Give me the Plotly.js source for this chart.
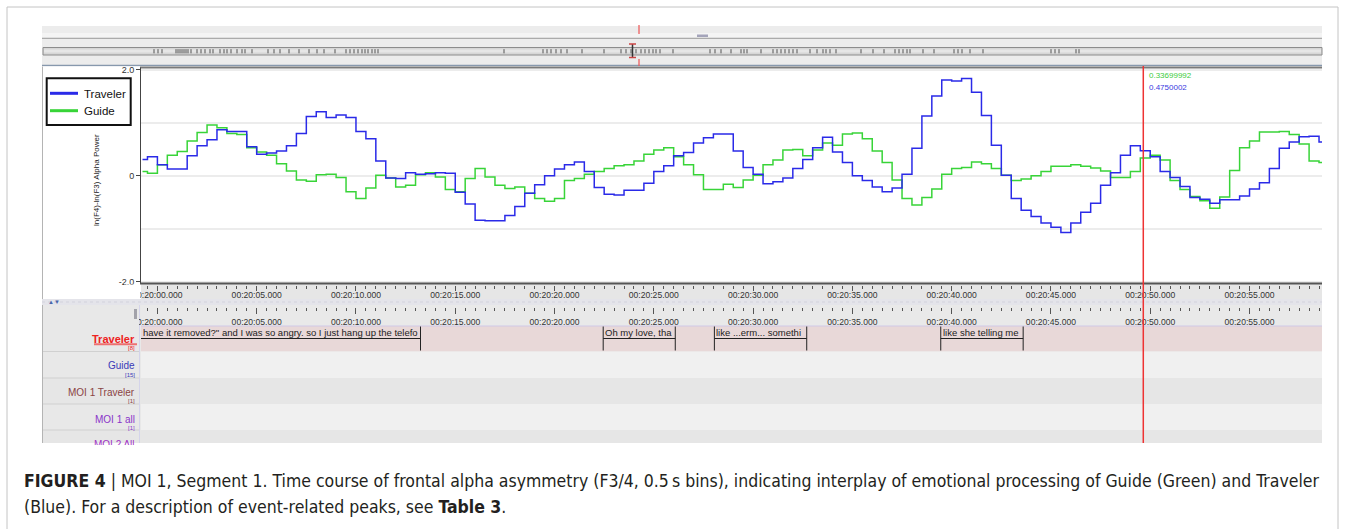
<!DOCTYPE html>
<html><head><meta charset="utf-8">
<script src="https://cdn.plot.ly/plotly-3.0.1.min.js"></script>
<style>html,body{margin:0;padding:0;background:#fff}#chart{width:1357px;height:529px}</style>
</head><body><div id="chart"></div>
<script>
// ---------------- DATA ----------------
const seriesNames = ["Traveler", "Guide"];
const seriesColors = ["#2a2ae8", "#38d438"];
// 0.5 s bins, first bin starts at 00:19:59.000 (t = -1.0 s relative to 00:20:00)
const binStart = -1.0;
const binWidth = 0.5;
const traveler = [
  0.31, 0.36, 0.21, 0.13, 0.13, 0.38, 0.57, 0.68, 0.87, 0.84,
  0.84, 0.55, 0.41, 0.43, 0.47, 0.57, 0.80, 1.12, 1.21, 1.10,
  1.15, 1.10, 0.84, 0.70, 0.28, -0.04, -0.05, 0.06, 0.03, 0.04,
  0.06, 0.05, -0.31, -0.53, -0.84, -0.85, -0.85, -0.75, -0.58, -0.33,
  -0.17, 0.00, 0.13, 0.21, 0.26, 0.08, -0.22, -0.35, -0.36, -0.27,
  -0.27, -0.14, 0.08, 0.19, 0.38, 0.44, 0.62, 0.72, 0.79, 0.79,
  0.47, 0.16, 0.03, -0.15, -0.11, -0.04, 0.14, 0.31, 0.53, 0.73,
  0.45, 0.25, 0.00, -0.09, -0.21, -0.30, -0.23, 0.03, 0.52, 1.13,
  1.51, 1.81, 1.79, 1.84, 1.58, 1.14, 0.58, 0.01, -0.43, -0.65,
  -0.77, -0.89, -0.97, -1.07, -0.89, -0.69, -0.52, -0.18, 0.06, 0.39,
  0.57, 0.475, 0.36, 0.08, -0.03, -0.20, -0.41, -0.44, -0.52, -0.45,
  -0.45, -0.38, -0.25, -0.13, 0.14, 0.52, 0.64, 0.74, 0.75, 0.64
];
const guide = [
  0.08, 0.05, 0.21, 0.39, 0.46, 0.66, 0.82, 0.96, 0.91, 0.80,
  0.78, 0.53, 0.45, 0.39, 0.23, 0.09, -0.08, -0.10, 0.02, 0.03,
  -0.03, -0.30, -0.43, -0.23, 0.01, -0.04, -0.21, -0.18, 0.02, 0.06,
  -0.02, -0.26, -0.30, -0.05, 0.14, -0.02, -0.18, -0.24, -0.21, -0.33,
  -0.43, -0.48, -0.43, -0.09, -0.05, 0.03, 0.08, 0.14, 0.19, 0.21,
  0.28, 0.41, 0.49, 0.53, 0.36, 0.21, 0.02, -0.26, -0.26, -0.16,
  -0.22, -0.08, 0.01, 0.21, 0.30, 0.49, 0.50, 0.38, 0.49, 0.62,
  0.58, 0.79, 0.81, 0.70, 0.47, 0.25, -0.08, -0.43, -0.55, -0.41,
  -0.25, 0.03, 0.14, 0.16, 0.26, 0.23, 0.14, 0.01, -0.09, -0.06,
  0.00, 0.08, 0.18, 0.18, 0.21, 0.18, 0.15, 0.09, -0.03, -0.03,
  0.08, 0.337, 0.39, 0.30, -0.09, -0.26, -0.39, -0.47, -0.61, -0.40,
  0.10, 0.53, 0.66, 0.83, 0.83, 0.84, 0.78, 0.60, 0.28, 0.25
];
const viewRange = [-0.826, 58.65];               // seconds after 00:20:00
const tickSeconds = [0, 5, 10, 15, 20, 25, 30, 35, 40, 45, 50, 55];
const tickLabels = ["00:20:00.000", "00:20:05.000", "00:20:10.000", "00:20:15.000",
  "00:20:20.000", "00:20:25.000", "00:20:30.000", "00:20:35.000", "00:20:40.000",
  "00:20:45.000", "00:20:50.000", "00:20:55.000"];
const yTickVals = [-2, 0, 2];
const yTickText = ["-2.0", "0", "2.0"];
const yGridMinor = [-1, 1];
const yTitle = "ln(F4)-ln(F3) Alpha Power";
const cursorTime = 49.65;
const cursorReadouts = ["0.33699992", "0.4750002"];   // Guide, Traveler
// annotation tier "Traveler"
const segStart = [-3.0, 22.45, 28.05, 39.45];
const segEnd = [13.25, 26.08, 32.7, 43.6];
const segText = ["have it removed?\" and I was so angry. so I just hang up the telefo",
  "Oh my love, tha", "like ...erm... somethi", "like she telling me"];
const tierNames = ["Traveler", "Guide", "MOI 1 Traveler", "MOI 1 all", "MOI 2 All"];
const tierCounts = ["[8]", "[15]", "[1]", "[1]", ""];
const tierColors = ["#ee2222", "#3a3ab8", "#8a4444", "#8a34c8", "#a034c4"];
// overview strip: annotation boundaries over the whole media (overview units)
const overviewTicks = [112,116,120,134,136,138,140,142,144,146,149,155,159,163,168,171,178,182,185,189,
  195,200,203,210,226,232,238,247,257,267,275,282,293,304,308,312,316,320,323,326,330,333,336,
  462,501,505,509,514,519,525,540,562,579,584,589,594,599,603,607,611,614,618,631,668,673,679,
  689,699,702,705,719,731,735,739,743,747,751,755,768,775,781,784,788,794,819,831,842,853,857,
  861,865,868,881,892,912,916,920,928,941,1009,1013,1017,1034,1037];
const captionBold1 = "FIGURE 4";
const captionRest1 = " | MOI 1, Segment 1. Time course of frontal alpha asymmetry (F3/4, 0.5\u2009s bins), indicating interplay of emotional processing of Guide (Green) and Traveler";
const captionRest2a = "(Blue). For a description of event-related peaks, see ";
const captionBold2 = "Table 3";
const captionRest2b = ".";

// ---------------- LAYOUT HELPERS ----------------
const W = 1357, H = 529;
const X = p => p / W;
const Y = p => 1 - p / H;
const FONT = "Liberation Sans, Arial, sans-serif";

// caption font: prefer a narrow sans if installed, sized to the caption's line width
const cnv = document.createElement("canvas").getContext("2d");
function widthOf(str, fam, weight, size) { cnv.font = weight + " " + size + "px " + fam; return cnv.measureText(str).width; }
function hasFont(name) {
  const probe = "abcdefghijklmnopqrstuvwxyz0123456789ABCDEFGHIJ";
  return ["monospace", "serif"].some(f => Math.abs(widthOf(probe, '"' + name + '", ' + f, "normal", 40) - widthOf(probe, f, "normal", 40)) > 0.5);
}
const capCandidates = ["Liberation Sans Narrow", "Arial Narrow", "DejaVu Sans Condensed", "Liberation Sans"];
const capFamily = capCandidates.find(hasFont) || "Liberation Sans";
const capFam = '"' + capFamily + '", Arial, sans-serif';
const line1At20 = widthOf(captionBold1, capFam, "bold", 20) + widthOf(captionRest1, capFam, "normal", 20);
const capSize = Math.min(24, 20 * 1296 / line1At20);

const shapes = [];
const annotations = [];
function rect(x0, y0, x1, y1, fill, layer, lineColor, lw) {
  shapes.push({type: "rect", xref: "paper", yref: "paper", x0: X(x0), x1: X(x1), y0: Y(y1), y1: Y(y0),
    fillcolor: fill, line: {color: lineColor || fill, width: lw || 0}, layer: layer || "below"});
}
function line(x0, y0, x1, y1, color, width, layer, dash) {
  shapes.push({type: "line", xref: "paper", yref: "paper", x0: X(x0), x1: X(x1), y0: Y(y0), y1: Y(y1),
    line: {color: color, width: width, dash: dash || "solid"}, layer: layer || "below"});
}
function text(t, x, y, size, color, anchor, extra, fam) {
  annotations.push(Object.assign({text: t, xref: "paper", yref: "paper", x: X(x), y: Y(y),
    xanchor: anchor || "left", yanchor: "middle", showarrow: false,
    font: {family: fam || FONT, size: size, color: color}}, extra || {}));
}

const PL = 141, PR = 1322, PT = 67.5, PB = 283.5;

// outer figure frame
rect(7, 7, 1338, 545, "rgba(0,0,0,0)", "below", "#c4c4c4", 1);
// top ELAN panels
rect(42, 26, 1322, 66, "#ececec");
rect(42, 33, 1322, 37.5, "#f4f4f4");
line(42, 38.3, 1322, 38.3, "#9c9c9c", 1);
rect(43, 47.5, 1322, 55, "#d6d6d6", "below", "#8c8c8c", 1);
rect(44, 49.5, 1321, 52.5, "#e6e6e6");
line(42, 65.6, 1322, 65.6, "#8798ad", 1.5);
rect(697, 34.5, 708, 37, "#a4a4ba");
// main plot panel
rect(42, 66.5, 1322, 299, "#ffffff");
line(42.5, 66.5, 42.5, 443, "#b4b4b4", 1);
rect(PL, 284, PR, 299, "#e6e6e6");
// separator strip
rect(42, 299, 1322, 305, "#e4e4ea");
line(42, 302, 1322, 302, "#d2d2dc", 1, "below", "dot");
// lower panel
rect(43, 305, 1322, 443, "#e8e8e8");
rect(PL, 305, PR, 326, "#e9e9e9");
rect(PL, 326, PR, 351.5, "#e8d8d8");
line(PL, 326, PR, 326, "#cfc8e6", 1);
rect(PL, 351.5, PR, 378, "#f0f0f0");
rect(43, 378, PR, 404, "#e6e6e6");
rect(PL, 404, PR, 430, "#f0f0f0");
rect(43, 430, PR, 443, "#e6e6e6");
[351.5, 378, 404, 430].forEach(yy => line(43, yy, 139, yy, "#d0d0d0", 1));
line(139.5, 305, 139.5, 443, "#d4d4ea", 1);
// plot borders
line(PL - 1, PT, PR, PT, "#7a7a7a", 2, "above");
line(PL - 0.5, PT, PL - 0.5, PB, "#444444", 1, "above");
line(PL - 1, PB, PR, PB, "#555555", 2, "above");
// covers for the clipped first ruler labels
rect(124, 284.6, 140.2, 299, "#ffffff", "above");
rect(120, 305.5, 139, 326, "#e8e8e8", "above");
rect(134, 309, 137, 319, "#a2a2aa", "above");

// top overview cursor marks
line(639, 25, 639, 38, "#ee5555", 1.2, "above", "dash");
line(639, 59, 639, 66, "#ee5555", 1.2, "above", "dash");
line(632.5, 44, 632.5, 57.5, "#333333", 1.5, "above");
line(629, 44, 636, 44, "#cc4444", 1.5, "above");
line(629, 57.5, 636, 57.5, "#cc4444", 1.5, "above");

// red time cursor across panels
shapes.push({type: "line", xref: "x", yref: "paper", x0: cursorTime, x1: cursorTime, y0: Y(443), y1: Y(66),
  line: {color: "#ee3333", width: 1.5}, layer: "above"});

// Traveler tier annotation segments
for (let i = 0; i < segStart.length; i++) {
  const s = Math.max(segStart[i], viewRange[0]);
  if (segStart[i] >= viewRange[0]) {
    shapes.push({type: "line", xref: "x", yref: "paper", x0: segStart[i], x1: segStart[i], y0: Y(350.5), y1: Y(326.5),
      line: {color: "#222", width: 1}, layer: "above"});
  }
  shapes.push({type: "line", xref: "x", yref: "paper", x0: segEnd[i], x1: segEnd[i], y0: Y(350.5), y1: Y(326.5),
    line: {color: "#222", width: 1}, layer: "above"});
  shapes.push({type: "line", xref: "x", yref: "paper", x0: s, x1: segEnd[i], y0: Y(338.5), y1: Y(338.5),
    line: {color: "#222", width: 1}, layer: "above"});
  annotations.push({text: segText[i], xref: "x", yref: "paper", x: s, y: Y(332.3), xanchor: "left", yanchor: "middle",
    xshift: 0, showarrow: false, font: {family: FONT, size: 9.5, color: "#222"}});
}

// manual legend box
rect(46.7, 78.3, 130.7, 125, "#ffffff", "above", "#111111", 2);
line(50, 93.3, 78, 93.3, seriesColors[0], 3, "above");
line(50, 110.7, 78, 110.7, seriesColors[1], 3, "above");
text(seriesNames[0], 82, 93.5, 11.5, "#111");
text(seriesNames[1], 82, 110.9, 11.5, "#111");

// y-axis title
text(yTitle, 97, 180, 8, "#222", "center", {textangle: -90});
// cursor readouts
text(cursorReadouts[0], 1146.5, 75, 8, "#3ccc3c");
text(cursorReadouts[1], 1146.5, 87.5, 8, "#3a3ae0");
// separator arrows
text("\u25B2\u25BC", 46, 302, 6, "#4a66aa");
// tier labels
text("<b>" + tierNames[0] + "</b>", 137, 339, 11, tierColors[0], "right");
line(94, 344.3, 137, 344.3, "#ee7070", 2, "above");
text(tierCounts[0], 137, 347.8, 6, tierColors[0], "right");
const tierY = [null, 366, 392, 419];
for (let i = 1; i < 4; i++) {
  text(tierNames[i], 137, tierY[i], 10, tierColors[i], "right");
  text(tierCounts[i], 137, tierY[i] + 8.5, 6, tierColors[i], "right");
}
annotations.push({text: tierNames[4], xref: "paper", yref: "paper", x: X(137), y: Y(437), xanchor: "right", yanchor: "top",
  valign: "top", height: 6, showarrow: false, font: {family: FONT, size: 10, color: tierColors[4]}});
// caption
text("<b>" + captionBold1 + "</b>" + captionRest1, 21.5, 480.5, capSize, "#231f20", "left", {}, capFam);
text(captionRest2a + "<b>" + captionBold2 + "</b>" + captionRest2b, 21.5, 506.5, capSize, "#231f20", "left", {}, capFam);

// ---------------- TRACES ----------------
const traces = [
  {type: "scatter", mode: "lines", name: seriesNames[1], x0: binStart + binWidth / 2, dx: binWidth, y: guide,
   line: {shape: "hvh", color: seriesColors[1], width: 1.5}, showlegend: false, hoverinfo: "skip"},
  {type: "scatter", mode: "lines", name: seriesNames[0], x0: binStart + binWidth / 2, dx: binWidth, y: traveler,
   line: {shape: "hvh", color: seriesColors[0], width: 1.5}, showlegend: false, hoverinfo: "skip"},
  {type: "scatter", mode: "markers", x: [], y: [], xaxis: "x2", yaxis: "y2", showlegend: false, hoverinfo: "skip"},
  {type: "scatter", mode: "markers", x: [], y: [], xaxis: "x3", yaxis: "y3", showlegend: false, hoverinfo: "skip"},
  {type: "scatter", mode: "markers", x: overviewTicks, y: overviewTicks.map(() => 0.5), xaxis: "x4", yaxis: "y4",
   marker: {symbol: "line-ns-open", size: 3, color: "#555555", line: {color: "#555555", width: 1}}, showlegend: false, hoverinfo: "skip"}
];

const rulerCommon = {
  domain: [X(PL), X(PR)], range: viewRange, matches: "x",
  tickmode: "array", tickvals: tickSeconds, ticktext: tickLabels,
  ticks: "outside", ticklen: 5, tickwidth: 1, tickcolor: "#555",
  minor: {tick0: 0, dtick: 0.5, ticks: "outside", ticklen: 3, tickwidth: 1, tickcolor: "#555", showgrid: false},
  tickfont: {family: FONT, size: 8.6, color: "#333"},
  showgrid: false, zeroline: false, showline: false, fixedrange: true
};

const layout = {
  width: W, height: H,
  margin: {l: 0, r: 0, t: 0, b: 0, pad: 0},
  paper_bgcolor: "#ffffff", plot_bgcolor: "rgba(0,0,0,0)",
  showlegend: false,
  xaxis: {domain: [X(PL), X(PR)], range: viewRange, anchor: "y", showticklabels: false, ticks: "",
    showgrid: false, zeroline: false, showline: false, fixedrange: true},
  yaxis: {domain: [Y(PB), Y(PT)], range: [-2.034, 2.047], anchor: "x",
    tickmode: "array", tickvals: yTickVals, ticktext: yTickText,
    ticks: "outside", ticklen: 4, tickcolor: "#444", tickwidth: 1,
    tickfont: {family: FONT, size: 9, color: "#333"},
    showgrid: true, gridcolor: "#ececec", gridwidth: 2,
    minor: {tickmode: "array", tickvals: yGridMinor, showgrid: true, gridcolor: "#ececec", gridwidth: 2, ticks: ""},
    zeroline: false, showline: false, fixedrange: true},
  xaxis2: Object.assign({}, rulerCommon, {anchor: "y2", side: "bottom", ticklabelstandoff: -3}),
  yaxis2: {domain: [Y(284.6), Y(283.6)], range: [0, 1], visible: false, anchor: "x2", fixedrange: true},
  xaxis3: Object.assign({}, rulerCommon, {anchor: "y3", side: "bottom", ticklen: 6, ticklabelstandoff: 0}),
  yaxis3: {domain: [Y(307.2), Y(306.2)], range: [0, 1], visible: false, anchor: "x3", fixedrange: true},
  xaxis4: {domain: [X(42), X(1322)], range: [0, 1280], anchor: "y4", visible: false, fixedrange: true},
  yaxis4: {domain: [Y(55), Y(47.5)], range: [0, 1], anchor: "x4", visible: false, fixedrange: true},
  shapes: shapes,
  annotations: annotations
};

Plotly.newPlot("chart", traces, layout, {staticPlot: true, displayModeBar: false});
</script>
</body></html>
